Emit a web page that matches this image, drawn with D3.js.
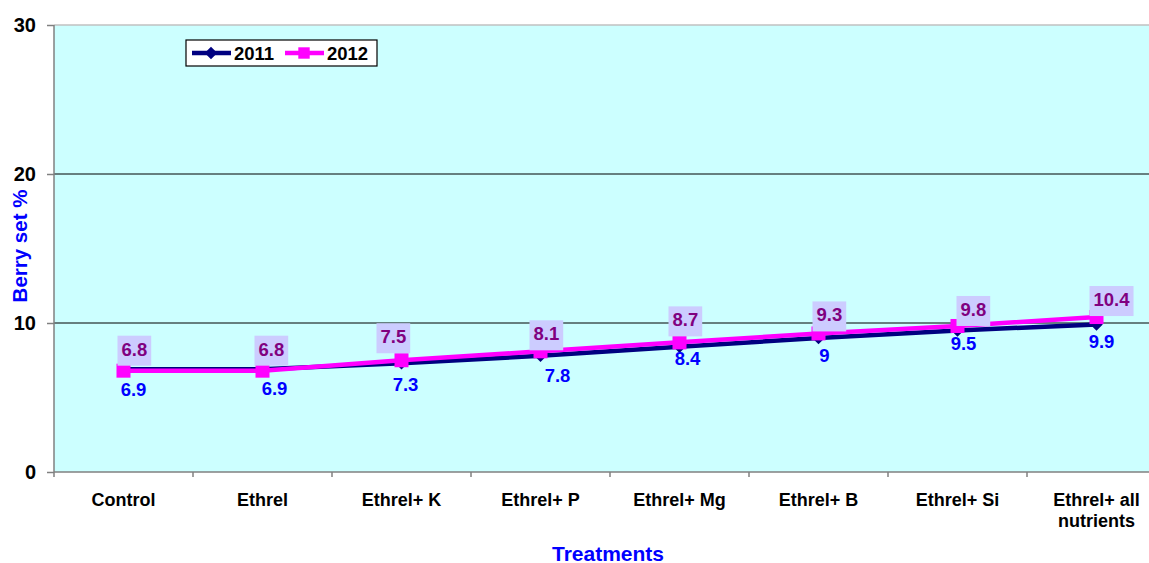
<!DOCTYPE html>
<html>
<head>
<meta charset="utf-8">
<script src="https://cdn.jsdelivr.net/npm/d3@7"></script>
<style>
  body { margin: 0; background: #fff; }
  text { font-family: "Liberation Sans", Arial, sans-serif; font-weight: bold; }
</style>
</head>
<body>
<svg id="chart"></svg>
<script>
const categories = ["Control", "Ethrel", "Ethrel+ K", "Ethrel+ P", "Ethrel+ Mg", "Ethrel+ B", "Ethrel+ Si", "Ethrel+ all|nutrients"];
const values2011 = [6.9, 6.9, 7.3, 7.8, 8.4, 9, 9.5, 9.9];
const values2012 = [6.8, 6.8, 7.5, 8.1, 8.7, 9.3, 9.8, 10.4];
const yTicks = [0, 10, 20, 30];

// hand-placed label nudges (as in the original Excel chart), [dx, dy] from the point
const nudge2011 = [[10, 27], [12, 26], [4, 28], [17, 26], [8, 18], [6, 24], [6, 20], [5, 24]];
const nudge2012 = [[-2, -15], [-4, -15], [-21, -17], [-7, -11], [-7, -16], [-2, -12], [3, -10], [-3, -11]];

var width = 1149, height = 563;
var marginLeft = 54, marginTop = 25, plotRight = 1166, plotBottom = 472;

const svg = d3.select("#chart")
    .attr("width", width)
    .attr("height", height)
    .attr("viewBox", [0, 0, width, height]);

const x = d3.scaleBand().domain(categories).range([marginLeft, plotRight]);
const y = d3.scaleLinear().domain([0, 30]).range([plotBottom, marginTop]);

// plot background
svg.append("rect")
    .attr("x", marginLeft).attr("y", marginTop)
    .attr("width", plotRight - marginLeft).attr("height", plotBottom - marginTop)
    .attr("fill", "#ccffff");

// gridlines
svg.append("g")
  .selectAll("line")
  .data(yTicks.filter(d => d > 0))
  .join("line")
    .attr("x1", marginLeft).attr("x2", plotRight)
    .attr("y1", d => y(d)).attr("y2", d => y(d))
    .attr("stroke", d => d === 30 ? "#c0c0c0" : "#000")
    .attr("stroke-width", d => d === 30 ? 1.5 : 1);

// y axis
svg.append("g")
    .attr("transform", `translate(${marginLeft},0)`)
    .call(d3.axisLeft(y).tickValues(yTicks).tickSize(7).tickPadding(11))
    .call(g => g.select(".domain").attr("stroke", "#808080").attr("stroke-width", 1.5).attr("d", `M0,${marginTop}V${plotBottom + 5}`))
    .call(g => g.selectAll(".tick line").attr("stroke", "#808080").attr("stroke-width", 1.5))
    .call(g => g.selectAll(".tick text")
        .attr("font-size", 20).attr("fill", "#000")
        .attr("font-family", "Liberation Sans, Arial, sans-serif").attr("font-weight", "bold"));

// x axis
const xAxisG = svg.append("g")
    .attr("transform", `translate(0,${plotBottom})`);
xAxisG.append("line")
    .attr("x1", marginLeft).attr("x2", plotRight)
    .attr("stroke", "#808080").attr("stroke-width", 1.5);
xAxisG.selectAll(".tk")
  .data(categories.slice(1))
  .join("line")
    .attr("class", "tk")
    .attr("x1", d => x(d)).attr("x2", d => x(d))
    .attr("y1", 0).attr("y2", 5)
    .attr("stroke", "#808080").attr("stroke-width", 1.5);
xAxisG.selectAll(".lbl")
  .data(categories)
  .join("text")
    .attr("class", "lbl")
    .attr("y", 34)
    .attr("text-anchor", "middle")
    .attr("font-size", 18)
    .attr("fill", "#000")
    .each(function(d) {
      d3.select(this).selectAll("tspan")
        .data(d.split("|"))
        .join("tspan")
          .attr("x", x(d) + x.bandwidth() / 2)
          .attr("dy", (p, i) => i === 0 ? 0 : 21)
          .text(p => p);
    });

// axis titles
svg.append("text")
    .attr("transform", `translate(27,246) rotate(-90)`)
    .attr("text-anchor", "middle")
    .attr("font-size", 20.5)
    .attr("fill", "#0000ff")
    .text("Berry set %");

svg.append("text")
    .attr("x", 608).attr("y", 560.5)
    .attr("text-anchor", "middle")
    .attr("font-size", 21)
    .attr("fill", "#0000ff")
    .text("Treatments");

const cx = d => x(d) + x.bandwidth() / 2;
const line = d3.line().x(d => cx(d[0])).y(d => y(d[1]));

const s2011 = categories.map((c, i) => [c, values2011[i]]);
const s2012 = categories.map((c, i) => [c, values2012[i]]);

// 2011 series
svg.append("path")
    .datum(s2011)
    .attr("fill", "none")
    .attr("stroke", "#000080")
    .attr("stroke-width", 4.5)
    .attr("d", line);
svg.append("g")
  .selectAll("path")
  .data(s2011)
  .join("path")
    .attr("transform", d => `translate(${cx(d[0])},${y(d[1])})`)
    .attr("d", d3.symbol(d3.symbolDiamond2, 100))
    .attr("fill", "#000080");

// 2012 series
svg.append("path")
    .datum(s2012)
    .attr("fill", "none")
    .attr("stroke", "#ff00ff")
    .attr("stroke-width", 4.5)
    .attr("d", line);
svg.append("g")
  .selectAll("rect")
  .data(s2012)
  .join("rect")
    .attr("x", d => cx(d[0]) - 7)
    .attr("y", d => y(d[1]) - 7)
    .attr("width", 14).attr("height", 14)
    .attr("fill", "#ff00ff");

// 2012 labels with lavender box
const lab12 = svg.append("g")
  .selectAll("g")
  .data(s2012)
  .join("g")
    .attr("transform", (d, i) => `translate(${cx(d[0]) + nudge2012[i][0]},${y(d[1]) + nudge2012[i][1]})`);
lab12.append("rect")
    .attr("x", -4).attr("y", -20)
    .attr("height", 30)
    .attr("fill", "#ccccff");
lab12.append("text")
    .attr("x", 0).attr("y", 0)
    .attr("font-size", 18.5)
    .attr("fill", "#800080")
    .text(d => d[1]);
lab12.each(function() {
  const g = d3.select(this);
  const w = g.select("text").node().getComputedTextLength();
  g.select("rect").attr("width", w + 8);
});

// 2011 labels
svg.append("g")
  .selectAll("text")
  .data(s2011)
  .join("text")
    .attr("x", (d, i) => cx(d[0]) + nudge2011[i][0])
    .attr("y", (d, i) => y(d[1]) + nudge2011[i][1])
    .attr("text-anchor", "middle")
    .attr("font-size", 18.5)
    .attr("fill", "#0000ff")
    .text(d => d[1]);

// legend
const legend = svg.append("g").attr("transform", "translate(186,40)");
legend.append("rect")
    .attr("width", 191).attr("height", 26)
    .attr("fill", "#fff").attr("stroke", "#000").attr("stroke-width", 1.2);
const legendItems = [
  {name: "2011", color: "#000080", shape: "diamond"},
  {name: "2012", color: "#ff00ff", shape: "square"}
];
const li = legend.selectAll(".li")
  .data(legendItems)
  .join("g")
    .attr("class", "li")
    .attr("transform", (d, i) => `translate(${6 + i * 93},13)`);
li.append("line")
    .attr("x1", 0).attr("x2", 39)
    .attr("stroke", d => d.color).attr("stroke-width", 4.5);
li.append("path")
    .attr("transform", "translate(19,0)")
    .attr("d", d => d.shape === "diamond" ? d3.symbol(d3.symbolDiamond2, 100)() : d3.symbol(d3.symbolSquare, 130)())
    .attr("fill", d => d.color);
li.append("text")
    .attr("x", 42).attr("y", 7)
    .attr("font-size", 18.5)
    .attr("fill", "#000")
    .text(d => d.name);
</script>
</body>
</html>
